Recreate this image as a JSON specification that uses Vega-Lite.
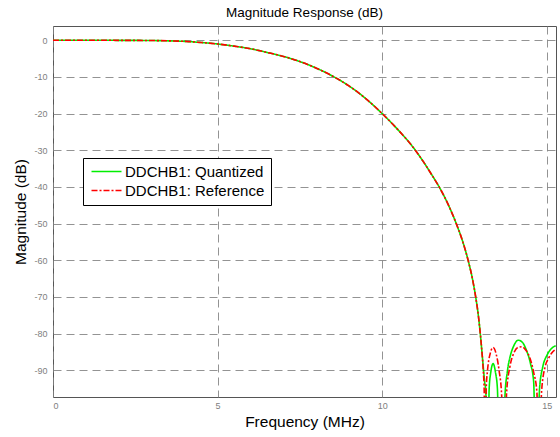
{
  "$schema": "https://vega.github.io/schema/vega-lite/v6.json",
  "width": 503,
  "height": 371,
  "autosize": {"type": "none"},
  "padding": {"left": 53, "top": 26, "right": 4, "bottom": 40},
  "background": "white",
  "config": {
    "font": "Liberation Sans",
    "view": {"stroke": "#555555", "strokeWidth": 1}
  },
  "title": {"text": "Magnitude Response (dB)", "fontSize": 13.5, "fontWeight": "normal", "color": "#000000", "font": "Liberation Sans", "anchor": "middle", "offset": 7},
  "datasets": {
    "d": [
      {"s": "DDCHB1: Quantized", "f": 0, "db": 0},
      {"s": "DDCHB1: Quantized", "f": 1, "db": 0},
      {"s": "DDCHB1: Quantized", "f": 2, "db": -0.01},
      {"s": "DDCHB1: Quantized", "f": 3, "db": -0.06},
      {"s": "DDCHB1: Quantized", "f": 3.5, "db": -0.15},
      {"s": "DDCHB1: Quantized", "f": 4, "db": -0.3},
      {"s": "DDCHB1: Quantized", "f": 4.5, "db": -0.6},
      {"s": "DDCHB1: Quantized", "f": 5, "db": -1.0},
      {"s": "DDCHB1: Quantized", "f": 5.5, "db": -1.6},
      {"s": "DDCHB1: Quantized", "f": 6, "db": -2.3},
      {"s": "DDCHB1: Quantized", "f": 6.5, "db": -3.3},
      {"s": "DDCHB1: Quantized", "f": 7, "db": -4.4},
      {"s": "DDCHB1: Quantized", "f": 7.5, "db": -5.8},
      {"s": "DDCHB1: Quantized", "f": 8, "db": -7.6},
      {"s": "DDCHB1: Quantized", "f": 8.5, "db": -9.8},
      {"s": "DDCHB1: Quantized", "f": 9, "db": -12.5},
      {"s": "DDCHB1: Quantized", "f": 9.5, "db": -15.9},
      {"s": "DDCHB1: Quantized", "f": 10, "db": -20.0},
      {"s": "DDCHB1: Quantized", "f": 10.5, "db": -24.6},
      {"s": "DDCHB1: Quantized", "f": 11, "db": -29.9},
      {"s": "DDCHB1: Quantized", "f": 11.25, "db": -33.1},
      {"s": "DDCHB1: Quantized", "f": 11.5, "db": -36.6},
      {"s": "DDCHB1: Quantized", "f": 11.75, "db": -40.3},
      {"s": "DDCHB1: Quantized", "f": 12, "db": -44.7},
      {"s": "DDCHB1: Quantized", "f": 12.25, "db": -50},
      {"s": "DDCHB1: Quantized", "f": 12.45, "db": -55},
      {"s": "DDCHB1: Quantized", "f": 12.61, "db": -60},
      {"s": "DDCHB1: Quantized", "f": 12.74, "db": -65},
      {"s": "DDCHB1: Quantized", "f": 12.84, "db": -70},
      {"s": "DDCHB1: Quantized", "f": 12.92, "db": -75},
      {"s": "DDCHB1: Quantized", "f": 12.98, "db": -80},
      {"s": "DDCHB1: Quantized", "f": 13.03, "db": -85},
      {"s": "DDCHB1: Quantized", "f": 13.07, "db": -89},
      {"s": "DDCHB1: Quantized", "f": 13.11, "db": -93},
      {"s": "DDCHB1: Quantized", "f": 13.15, "db": -96},
      {"s": "DDCHB1: Quantized", "f": 13.19, "db": -130},
      {"s": "DDCHB1: Quantized", "f": 13.25, "db": -95},
      {"s": "DDCHB1: Quantized", "f": 13.3, "db": -90.5},
      {"s": "DDCHB1: Quantized", "f": 13.37, "db": -88.2},
      {"s": "DDCHB1: Quantized", "f": 13.44, "db": -90.5},
      {"s": "DDCHB1: Quantized", "f": 13.5, "db": -95},
      {"s": "DDCHB1: Quantized", "f": 13.58, "db": -130},
      {"s": "DDCHB1: Quantized", "f": 13.66, "db": -130},
      {"s": "DDCHB1: Quantized", "f": 13.73, "db": -97},
      {"s": "DDCHB1: Quantized", "f": 13.8, "db": -90.5},
      {"s": "DDCHB1: Quantized", "f": 13.9, "db": -85.8},
      {"s": "DDCHB1: Quantized", "f": 14.0, "db": -83.3},
      {"s": "DDCHB1: Quantized", "f": 14.13, "db": -81.8},
      {"s": "DDCHB1: Quantized", "f": 14.25, "db": -82.3},
      {"s": "DDCHB1: Quantized", "f": 14.38, "db": -84.5},
      {"s": "DDCHB1: Quantized", "f": 14.5, "db": -88},
      {"s": "DDCHB1: Quantized", "f": 14.6, "db": -93},
      {"s": "DDCHB1: Quantized", "f": 14.69, "db": -130},
      {"s": "DDCHB1: Quantized", "f": 14.78, "db": -95},
      {"s": "DDCHB1: Quantized", "f": 14.88, "db": -89},
      {"s": "DDCHB1: Quantized", "f": 15.0, "db": -86},
      {"s": "DDCHB1: Quantized", "f": 15.12, "db": -84.3},
      {"s": "DDCHB1: Quantized", "f": 15.27, "db": -83.3},
      {"s": "DDCHB1: Reference", "f": 0, "db": 0},
      {"s": "DDCHB1: Reference", "f": 1, "db": 0},
      {"s": "DDCHB1: Reference", "f": 2, "db": -0.01},
      {"s": "DDCHB1: Reference", "f": 3, "db": -0.06},
      {"s": "DDCHB1: Reference", "f": 3.5, "db": -0.15},
      {"s": "DDCHB1: Reference", "f": 4, "db": -0.3},
      {"s": "DDCHB1: Reference", "f": 4.5, "db": -0.6},
      {"s": "DDCHB1: Reference", "f": 5, "db": -1.0},
      {"s": "DDCHB1: Reference", "f": 5.5, "db": -1.6},
      {"s": "DDCHB1: Reference", "f": 6, "db": -2.3},
      {"s": "DDCHB1: Reference", "f": 6.5, "db": -3.3},
      {"s": "DDCHB1: Reference", "f": 7, "db": -4.4},
      {"s": "DDCHB1: Reference", "f": 7.5, "db": -5.8},
      {"s": "DDCHB1: Reference", "f": 8, "db": -7.6},
      {"s": "DDCHB1: Reference", "f": 8.5, "db": -9.8},
      {"s": "DDCHB1: Reference", "f": 9, "db": -12.5},
      {"s": "DDCHB1: Reference", "f": 9.5, "db": -15.9},
      {"s": "DDCHB1: Reference", "f": 10, "db": -20.0},
      {"s": "DDCHB1: Reference", "f": 10.5, "db": -24.6},
      {"s": "DDCHB1: Reference", "f": 11, "db": -29.9},
      {"s": "DDCHB1: Reference", "f": 11.25, "db": -33.1},
      {"s": "DDCHB1: Reference", "f": 11.5, "db": -36.6},
      {"s": "DDCHB1: Reference", "f": 11.75, "db": -40.3},
      {"s": "DDCHB1: Reference", "f": 12, "db": -44.7},
      {"s": "DDCHB1: Reference", "f": 12.25, "db": -50},
      {"s": "DDCHB1: Reference", "f": 12.45, "db": -55},
      {"s": "DDCHB1: Reference", "f": 12.61, "db": -60},
      {"s": "DDCHB1: Reference", "f": 12.74, "db": -65},
      {"s": "DDCHB1: Reference", "f": 12.84, "db": -70},
      {"s": "DDCHB1: Reference", "f": 12.92, "db": -75},
      {"s": "DDCHB1: Reference", "f": 12.98, "db": -80},
      {"s": "DDCHB1: Reference", "f": 13.03, "db": -85},
      {"s": "DDCHB1: Reference", "f": 13.07, "db": -90},
      {"s": "DDCHB1: Reference", "f": 13.1, "db": -96},
      {"s": "DDCHB1: Reference", "f": 13.12, "db": -130},
      {"s": "DDCHB1: Reference", "f": 13.16, "db": -95},
      {"s": "DDCHB1: Reference", "f": 13.2, "db": -90},
      {"s": "DDCHB1: Reference", "f": 13.28, "db": -85.5},
      {"s": "DDCHB1: Reference", "f": 13.37, "db": -83.8},
      {"s": "DDCHB1: Reference", "f": 13.46, "db": -85.5},
      {"s": "DDCHB1: Reference", "f": 13.55, "db": -90},
      {"s": "DDCHB1: Reference", "f": 13.63, "db": -97},
      {"s": "DDCHB1: Reference", "f": 13.7, "db": -130},
      {"s": "DDCHB1: Reference", "f": 13.78, "db": -96},
      {"s": "DDCHB1: Reference", "f": 13.88, "db": -89},
      {"s": "DDCHB1: Reference", "f": 14.0, "db": -85.3},
      {"s": "DDCHB1: Reference", "f": 14.12, "db": -83.8},
      {"s": "DDCHB1: Reference", "f": 14.24, "db": -83.6},
      {"s": "DDCHB1: Reference", "f": 14.36, "db": -84.5},
      {"s": "DDCHB1: Reference", "f": 14.48, "db": -86.5},
      {"s": "DDCHB1: Reference", "f": 14.6, "db": -90.5},
      {"s": "DDCHB1: Reference", "f": 14.7, "db": -96},
      {"s": "DDCHB1: Reference", "f": 14.77, "db": -130},
      {"s": "DDCHB1: Reference", "f": 14.84, "db": -96},
      {"s": "DDCHB1: Reference", "f": 14.95, "db": -89},
      {"s": "DDCHB1: Reference", "f": 15.05, "db": -86.8},
      {"s": "DDCHB1: Reference", "f": 15.15, "db": -85.3},
      {"s": "DDCHB1: Reference", "f": 15.27, "db": -84.3}
    ]
  },
  "data": {"name": "d"},
  "encoding": {
    "x": {
      "field": "f", "type": "quantitative",
      "scale": {"domain": [0, 15.28], "nice": false, "zero": false},
      "axis": {
        "title": "Frequency (MHz)", "titleFontSize": 15.5, "titleFontWeight": "normal", "titleColor": "#000000", "titleFont": "Liberation Sans", "titlePadding": 4,
        "values": [0, 5, 10, 15], "labelFontSize": 9, "labelColor": "#808080", "labelFont": "Liberation Sans", "labelPadding": 4,
        "ticks": false, "domain": false,
        "grid": true, "gridDash": [8, 5], "gridColor": "#808080", "gridOpacity": 0.85, "gridWidth": 1
      }
    },
    "y": {
      "field": "db", "type": "quantitative",
      "scale": {"domain": [-97.3, 3.9], "nice": false, "zero": false},
      "axis": {
        "title": "Magnitude (dB)", "titleFontSize": 15.5, "titleFontWeight": "normal", "titleColor": "#000000", "titleFont": "Liberation Sans", "titlePadding": 5,
        "values": [0, -10, -20, -30, -40, -50, -60, -70, -80, -90], "labelExpr": "'' + datum.value",
        "labelFontSize": 9, "labelColor": "#808080", "labelFont": "Liberation Sans", "labelPadding": 6,
        "ticks": false, "domain": false,
        "grid": true, "gridDash": [8, 5], "gridColor": "#808080", "gridOpacity": 0.85, "gridWidth": 1
      }
    },
    "color": {
      "field": "s", "type": "nominal",
      "scale": {"domain": ["DDCHB1: Quantized", "DDCHB1: Reference"], "range": ["#00ee00", "#ff0000"]},
      "legend": {
        "title": null, "orient": "none", "legendX": 30, "legendY": 132,
        "symbolType": "M-1,0H5", "symbolSize": 100, "symbolStrokeWidth": 1.5,
        "labelFontSize": 15, "labelColor": "#000000", "labelFont": "Liberation Sans", "labelLimit": 300,
        "strokeColor": "#000000", "fillColor": "#ffffff", "padding": 6, "rowPadding": 3, "labelOffset": 21
      }
    },
    "strokeDash": {
      "field": "s", "type": "nominal",
      "scale": {"domain": ["DDCHB1: Quantized", "DDCHB1: Reference"], "range": [[1, 0], [6, 2, 2, 2]]},
      "legend": {
        "title": null, "orient": "none", "legendX": 30, "legendY": 132,
        "symbolType": "M-1,0H5", "symbolSize": 100, "symbolStrokeWidth": 1.5,
        "labelFontSize": 15, "labelColor": "#000000", "labelFont": "Liberation Sans", "labelLimit": 300,
        "strokeColor": "#000000", "fillColor": "#ffffff", "padding": 6, "rowPadding": 3, "labelOffset": 21
      }
    }
  },
  "layer": [
    {
      "transform": [{"filter": "datum.s === 'DDCHB1: Quantized'"}],
      "mark": {"type": "line", "clip": true, "strokeWidth": 1.6, "interpolate": "monotone"}
    },
    {
      "transform": [{"filter": "datum.s === 'DDCHB1: Reference'"}],
      "mark": {"type": "line", "clip": true, "strokeWidth": 1.6, "interpolate": "monotone"}
    }
  ]
}
